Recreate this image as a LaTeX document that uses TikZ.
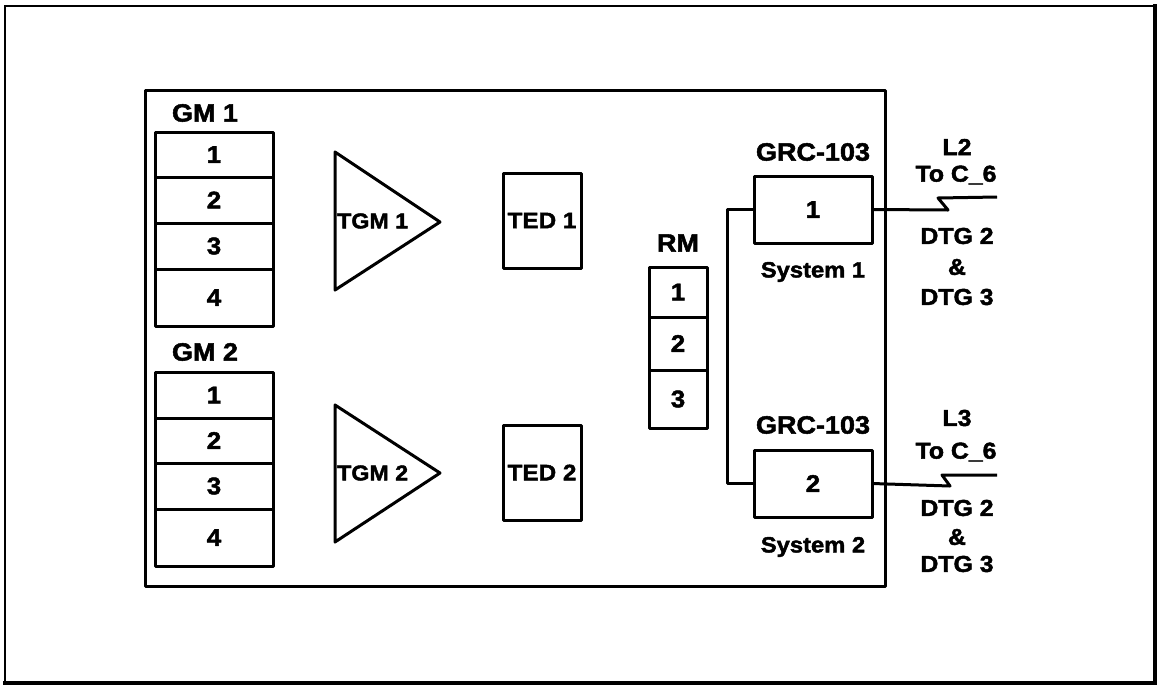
\documentclass[tikz,border=0pt]{standalone}
\usepackage{fontspec}
\newfontfamily\hv{Liberation Sans}[FakeStretch=1.08, BoldFeatures={FakeBold=2}]
\newcommand{\fsz}[1]{\hv\bfseries\fontsize{#1}{#1}\selectfont}
\begin{document}
\begin{tikzpicture}[x=1pt,y=-1pt,
  ln/.style={line width=3pt, line join=round},
  cell/.style={draw, ln, inner sep=0pt, outer sep=0pt, font=\fsz{24}},
  lbl/.style={inner sep=0pt, font=\fsz{25}},
  sml/.style={inner sep=0pt, font=\fsz{23}}]
\useasboundingbox (0,0) rectangle (1159,691);
% outer frame
\draw[line width=2.5pt] (1153,6) -- (5,6) -- (5,683);
\draw[line width=4.5pt] (3,683) -- (1155,683) -- (1155,4);
% inner frame
\draw[ln] (145,90) rectangle (885,586);
% GM 1
\node[lbl] (gm1) at (205,113) {GM 1};
\node[cell, minimum width=118, minimum height=45] (a1) at (214,154.5) {1};
\node[cell, minimum width=118, minimum height=46] (a2) at (214,200) {2};
\node[cell, minimum width=118, minimum height=46] (a3) at (214,246) {3};
\node[cell, minimum width=118, minimum height=57] (a4) at (214,297.5) {4};
% GM 2
\node[lbl] (gm2) at (205,352) {GM 2};
\node[cell, minimum width=118, minimum height=46] (b1) at (214,395) {1};
\node[cell, minimum width=118, minimum height=45] (b2) at (214,440.5) {2};
\node[cell, minimum width=118, minimum height=46] (b3) at (214,486) {3};
\node[cell, minimum width=118, minimum height=57] (b4) at (214,537.5) {4};
% TGM triangles
\coordinate (t1a) at (335,152); \coordinate (t1b) at (440,222); \coordinate (t1c) at (335,290);
\draw[ln] (t1a) -- (t1b) -- (t1c) -- cycle;
\node[sml, anchor=west, font=\fsz{21.5}] (tgm1) at (337,221) {TGM 1};
\coordinate (t2a) at (335,405); \coordinate (t2b) at (440,473); \coordinate (t2c) at (335,542);
\draw[ln] (t2a) -- (t2b) -- (t2c) -- cycle;
\node[sml, anchor=west, font=\fsz{21.5}] (tgm2) at (337,473) {TGM 2};
% TED boxes
\node[cell, minimum width=78, minimum height=95, font=\fsz{22.5}] (ted1) at (542,220.5) {TED 1};
\node[cell, minimum width=78, minimum height=95, font=\fsz{22.5}] (ted2) at (542,472.5) {TED 2};
% RM
\node[lbl] (rm) at (678,243) {RM};
\node[cell, minimum width=58, minimum height=50] (r1) at (678,292) {1};
\node[cell, minimum width=58, minimum height=53] (r2) at (678,343.5) {2};
\node[cell, minimum width=58, minimum height=58] (r3) at (678,399) {3};
% GRC-103
\node[lbl] (grc1) at (813,152) {GRC-103};
\node[cell, minimum width=118, minimum height=67] (g1) at (813,209.5) {1};
\node[sml, font=\fsz{22}] (sys1) at (813,272) {System 1};
\node[lbl] (grc2) at (813,425) {GRC-103};
\node[cell, minimum width=118, minimum height=67] (g2) at (813,483.5) {2};
\node[sml, font=\fsz{22}] (sys2) at (813,547) {System 2};
% connector between systems
\draw[ln] (g1.west) -- ++(-27,0) |- (g2.west);
% radio links
\coordinate (e1) at (997,197);
\coordinate (e2) at (997,475);
\draw[ln] (g1.east) -- (948,210) -- (938,198) -- (e1);
\draw[ln] (g2.east) -- (950,486) -- (942,475) -- (e2);
% right labels
\node[sml] (l2) at (957,147) {L2};
\node[sml] (c61) at (956,175) {To C\_6};
\node[sml] (d21) at (957,236) {DTG 2};
\node[sml] (am1) at (957,267) {\&};
\node[sml] (d31) at (957,297) {DTG 3};
\node[sml] (l3) at (957,418) {L3};
\node[sml] (c62) at (956,452) {To C\_6};
\node[sml] (d22) at (957,508) {DTG 2};
\node[sml] (am2) at (957,537) {\&};
\node[sml] (d32) at (957,564) {DTG 3};
\end{tikzpicture}
\end{document}
